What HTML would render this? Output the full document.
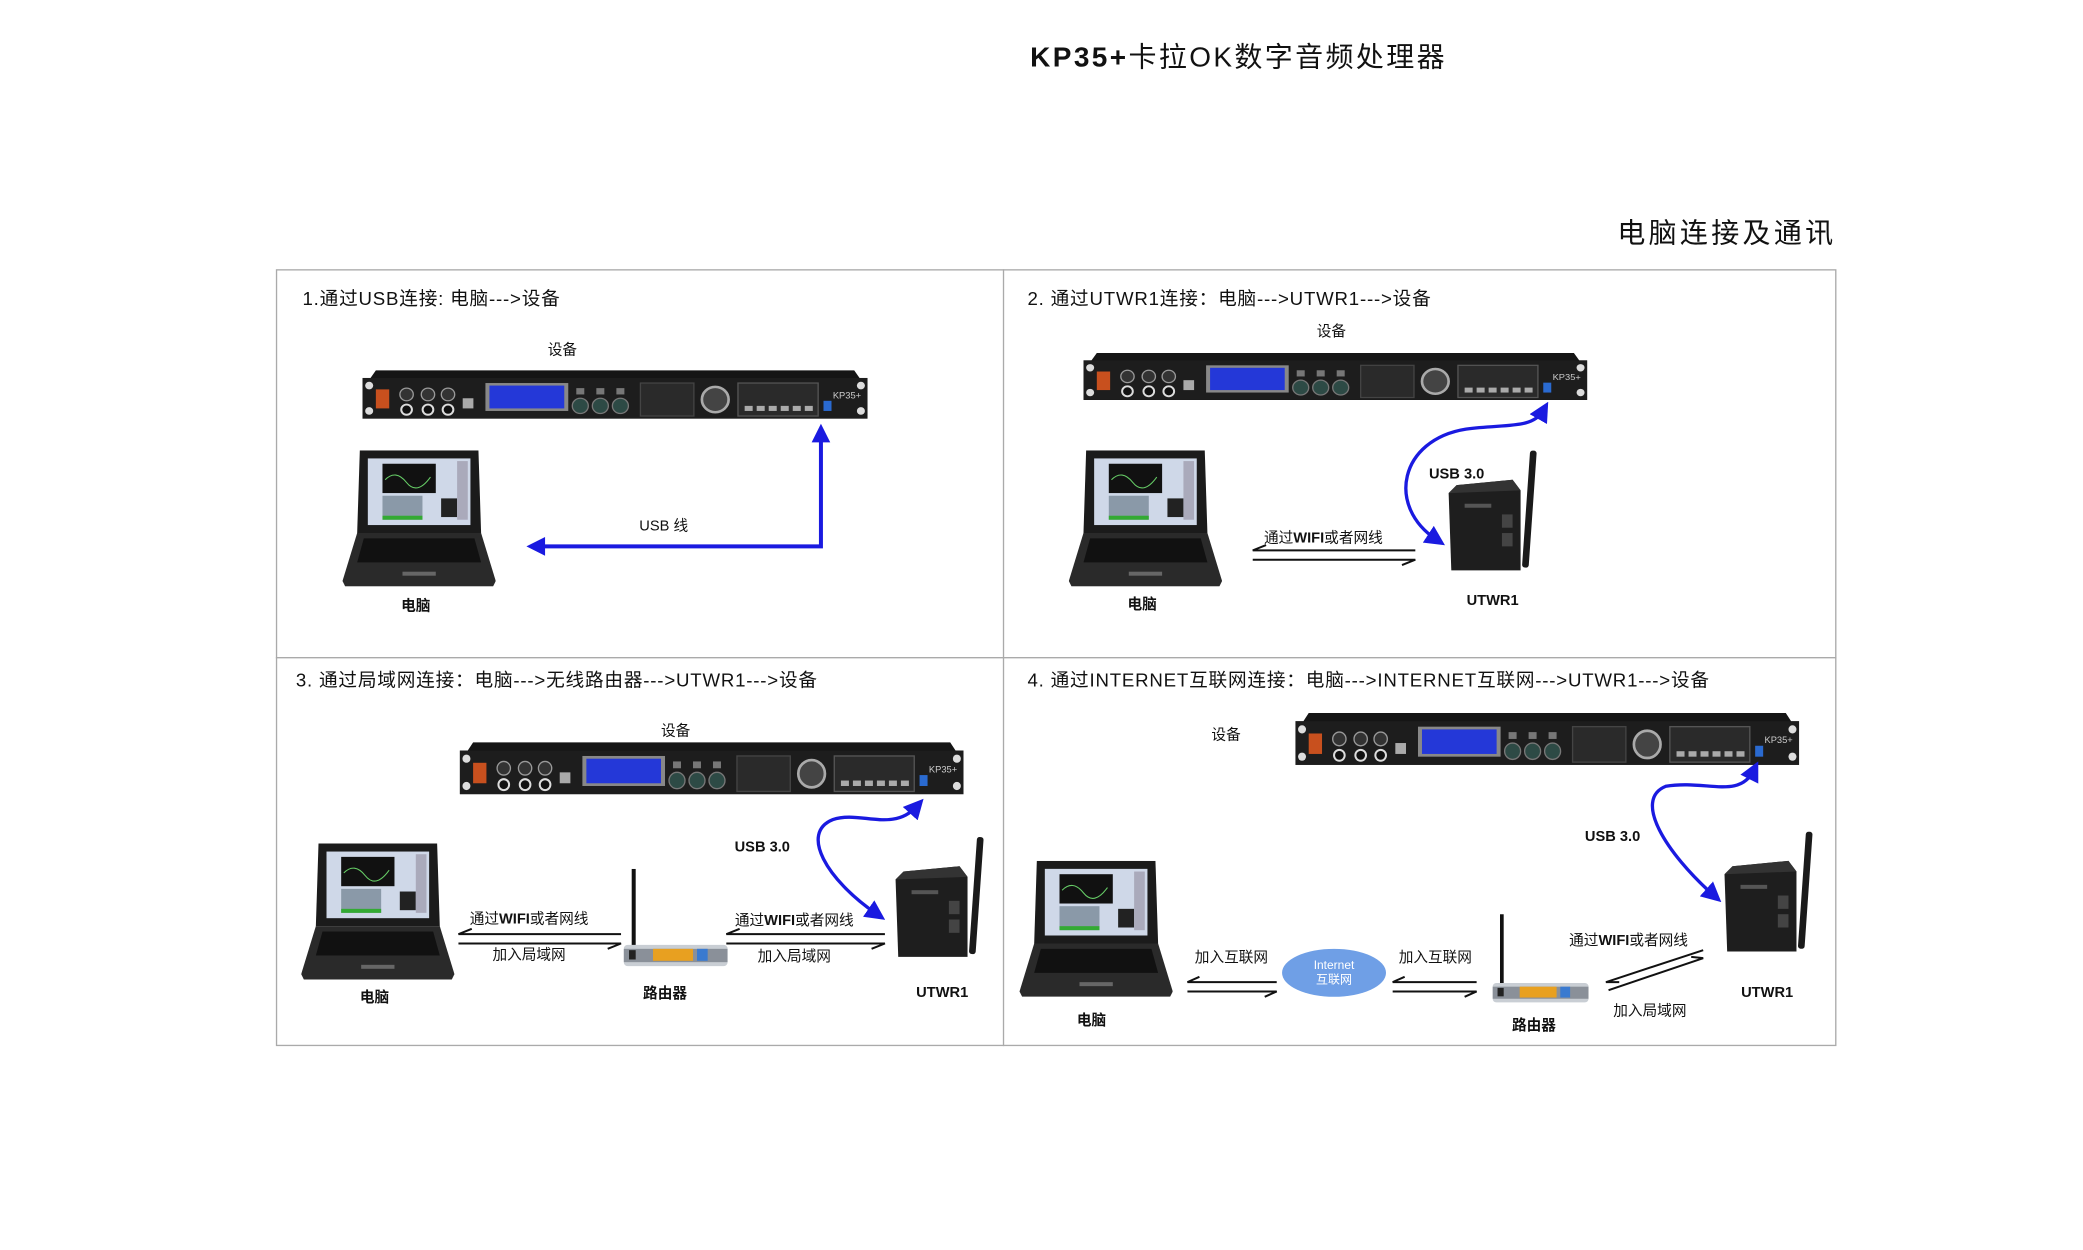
<!DOCTYPE html>
<html><head><meta charset="utf-8"><style>
html,body{margin:0;padding:0;background:#fff;width:2083px;height:1250px;overflow:hidden}
svg{display:block}
text{font-family:"Liberation Sans","Noto Sans CJK SC",sans-serif;fill:#111}
.t{font-size:14px;letter-spacing:0.6px}
.s{font-size:11px}
.b{font-weight:bold}
</style></head><body>
<svg width="2083" height="1250" viewBox="0 0 1563 938" preserveAspectRatio="none" xmlns="http://www.w3.org/2000/svg">
<defs>
<symbol id="dev" viewBox="0 0 378 42" preserveAspectRatio="none">
 <path d="M10 2 L368 2 L372 8 L378 8 L378 40 L0 40 L0 8 L6 8 Z" fill="#151515"/>
 <rect x="0" y="8" width="378" height="32" fill="#1d1d1d"/>
 <circle cx="5" cy="14" r="3" fill="#ddd"/><circle cx="5" cy="34" r="3" fill="#ddd"/>
 <circle cx="373" cy="14" r="3" fill="#ddd"/><circle cx="373" cy="34" r="3" fill="#ddd"/>
 <rect x="10" y="17" width="10" height="15" fill="#c8501e"/>
 <circle cx="33" cy="21" r="5" fill="#333" stroke="#999" stroke-width="1"/>
 <circle cx="49" cy="21" r="5" fill="#333" stroke="#999" stroke-width="1"/>
 <circle cx="64" cy="21" r="5" fill="#333" stroke="#999" stroke-width="1"/>
 <circle cx="33" cy="33" r="4" fill="#111" stroke="#ddd" stroke-width="1.5"/>
 <circle cx="49" cy="33" r="4" fill="#111" stroke="#ddd" stroke-width="1.5"/>
 <circle cx="64" cy="33" r="4" fill="#111" stroke="#ddd" stroke-width="1.5"/>
 <rect x="75" y="24" width="8" height="8" fill="#aaa"/>
 <rect x="92" y="12" width="62" height="22" fill="#888"/>
 <rect x="95" y="14" width="56" height="18" fill="#2438d8"/>
 <circle cx="163" cy="30" r="6" fill="#2d4a45" stroke="#777"/>
 <circle cx="178" cy="30" r="6" fill="#2d4a45" stroke="#777"/>
 <circle cx="193" cy="30" r="6" fill="#2d4a45" stroke="#777"/>
 <rect x="160" y="16" width="6" height="5" fill="#777"/><rect x="175" y="16" width="6" height="5" fill="#777"/><rect x="190" y="16" width="6" height="5" fill="#777"/>
 <rect x="208" y="12" width="40" height="26" fill="#2a2a2a" stroke="#444"/>
 <circle cx="264" cy="25" r="10" fill="#444" stroke="#aaa" stroke-width="2"/>
 <rect x="281" y="12" width="60" height="26" fill="#2a2a2a" stroke="#555"/>
 <g fill="#aaa"><rect x="286" y="30" width="6" height="4"/><rect x="295" y="30" width="6" height="4"/><rect x="304" y="30" width="6" height="4"/><rect x="313" y="30" width="6" height="4"/><rect x="322" y="30" width="6" height="4"/><rect x="331" y="30" width="6" height="4"/></g>
 <rect x="345" y="26" width="6" height="8" fill="#2a6ad0"/>
 <text x="352" y="24" font-size="7" style="fill:#ccc">KP35+</text>
</symbol>
<symbol id="lap" viewBox="0 0 115 102" preserveAspectRatio="none">
 <path d="M13 0 L102 0 L104 62 L11 62 Z" fill="#1b1b1b"/>
 <rect x="19" y="6" width="77" height="50" fill="#cfd8e8"/>
 <rect x="30" y="10" width="40" height="22" fill="#111"/>
 <path d="M32 22 Q40 14 48 24 T66 20" stroke="#6c6" fill="none" stroke-width="0.8"/>
 <rect x="30" y="34" width="30" height="18" fill="#8a99a8"/>
 <rect x="30" y="49" width="30" height="3" fill="#3a3"/>
 <rect x="74" y="36" width="12" height="14" fill="#222"/>
 <rect x="86" y="8" width="8" height="44" fill="#aab"/>
 <path d="M11 62 L104 62 L115 98 L113 102 L2 102 L0 98 Z" fill="#2a2a2a"/>
 <path d="M16 66 L99 66 L104 84 L11 84 Z" fill="#111"/>
 <rect x="45" y="91" width="25" height="3" fill="#666"/>
</symbol>
<symbol id="rt" viewBox="0 0 78 75" preserveAspectRatio="none">
 <rect x="6" y="0" width="3" height="60" fill="#111"/>
 <rect x="0" y="57" width="78" height="16" rx="3" fill="#c9ced4"/>
 <rect x="0" y="60" width="78" height="10" fill="#8a9099"/>
 <rect x="22" y="60" width="30" height="9" fill="#e8a020"/>
 <rect x="55" y="60" width="8" height="9" fill="#3a7ad0"/>
 <rect x="4" y="61" width="5" height="7" fill="#222"/>
</symbol>
<symbol id="ut" viewBox="0 0 70 92" preserveAspectRatio="none">
 <rect x="60" y="0" width="5" height="88" rx="2" fill="#1a1a1a" transform="rotate(4 62 45)"/>
 <path d="M8 26 L50 22 L56 30 L56 90 L4 90 L2 32 Z" fill="#1e1e1e"/>
 <path d="M2 32 L8 26 L50 22 L56 30 Z" fill="#333"/>
 <rect x="42" y="48" width="8" height="10" fill="#444"/>
 <rect x="42" y="62" width="8" height="10" fill="#444"/>
 <rect x="14" y="40" width="20" height="3" fill="#555"/>
</symbol>
<marker id="ah" viewBox="0 0 10 10" refX="5" refY="5" markerWidth="6" markerHeight="6" orient="auto-start-reverse"><path d="M0 0 L10 5 L0 10 Z" fill="#1a1ae0"/></marker>
</defs>

<text x="773" y="50" font-size="21" letter-spacing="1.8" class="b">KP35+<tspan font-weight="normal">卡拉OK数字音频处理器</tspan></text>
<text x="1378" y="182" font-size="21" letter-spacing="2.5" text-anchor="end">电脑连接及通讯</text>

<rect x="207.5" y="202.5" width="1170" height="582" fill="none" stroke="#aaa" stroke-width="1"/>
<line x1="753" y1="202" x2="753" y2="785" stroke="#aaa"/>
<line x1="207" y1="493.5" x2="1378" y2="493.5" stroke="#aaa"/>

<!-- Panel 1 -->
<text x="227" y="229" class="t">1.通过USB连接:  电脑--->设备</text>
<text x="422" y="266" class="s" text-anchor="middle">设备</text>
<use href="#dev" x="272" y="276" width="379" height="40"/>
<use href="#lap" x="257" y="338" width="115" height="102"/>
<text x="312" y="458" class="s b" text-anchor="middle">电脑</text>
<path d="M616 330 L616 410 L408 410" stroke="#1a1ae0" stroke-width="3" fill="none"/>
<path d="M616 318 L609 332 L623 332 Z" fill="#1a1ae0"/>
<path d="M395 410 L409 403 L409 417 Z" fill="#1a1ae0"/>
<text x="498" y="398" class="s" text-anchor="middle">USB 线</text>

<!-- Panel 2 -->
<text x="771" y="229" class="t">2. 通过UTWR1连接：电脑--->UTWR1--->设备</text>
<text x="999" y="252" class="s" text-anchor="middle">设备</text>
<use href="#dev" x="813" y="263" width="378" height="39"/>
<use href="#lap" x="802" y="338" width="115" height="102"/>
<text x="857" y="457" class="s b" text-anchor="middle">电脑</text>
<use href="#ut" x="1085" y="338" width="70" height="92"/>
<text x="1120" y="454" class="s b" text-anchor="middle">UTWR1</text>
<text x="1093" y="359" class="s b" text-anchor="middle">USB 3.0</text>
<path d="M1078 405 C1040 380 1050 330 1100 322 C1130 318 1150 322 1158 308" stroke="#1a1ae0" stroke-width="2.5" fill="none" marker-end="url(#ah)" marker-start="url(#ah)"/>
<text x="993" y="407" class="s" text-anchor="middle">通过<tspan font-weight="bold">WIFI</tspan>或者网线</text>
<g stroke="#111" stroke-width="1.5" fill="none"><path d="M1062 413 L940 413 L950 409"/><path d="M940 420 L1062 420 L1052 424"/></g>

<!-- Panel 3 -->
<text x="222" y="515" class="t">3. 通过局域网连接：电脑--->无线路由器--->UTWR1--->设备</text>
<text x="507" y="552" class="s" text-anchor="middle">设备</text>
<use href="#dev" x="345" y="555" width="378" height="43"/>
<use href="#lap" x="226" y="633" width="115" height="102"/>
<text x="281" y="752" class="s b" text-anchor="middle">电脑</text>
<use href="#rt" x="468" y="652" width="78" height="75"/>
<text x="499" y="749" class="s b" text-anchor="middle">路由器</text>
<use href="#ut" x="670" y="628" width="70" height="92"/>
<text x="707" y="748" class="s b" text-anchor="middle">UTWR1</text>
<text x="572" y="639" class="s b" text-anchor="middle">USB 3.0</text>
<path d="M658 686 C620 660 600 625 625 615 C645 608 670 625 688 605" stroke="#1a1ae0" stroke-width="2.5" fill="none" marker-end="url(#ah)" marker-start="url(#ah)"/>
<text x="397" y="693" class="s" text-anchor="middle">通过<tspan font-weight="bold">WIFI</tspan>或者网线</text>
<text x="397" y="720" class="s" text-anchor="middle">加入局域网</text>
<g stroke="#111" stroke-width="1.5" fill="none"><path d="M466 701 L344 701 L354 697"/><path d="M344 708 L466 708 L456 712"/></g>
<text x="596" y="694" class="s" text-anchor="middle">通过<tspan font-weight="bold">WIFI</tspan>或者网线</text>
<text x="596" y="721" class="s" text-anchor="middle">加入局域网</text>
<g stroke="#111" stroke-width="1.5" fill="none"><path d="M664 701 L545 701 L555 697"/><path d="M545 708 L664 708 L654 712"/></g>

<!-- Panel 4 -->
<text x="771" y="515" class="t">4. 通过INTERNET互联网连接：电脑--->INTERNET互联网--->UTWR1--->设备</text>
<text x="920" y="555" class="s" text-anchor="middle">设备</text>
<use href="#dev" x="972" y="533" width="378" height="43"/>
<use href="#lap" x="765" y="646" width="115" height="102"/>
<text x="819" y="769" class="s b" text-anchor="middle">电脑</text>
<ellipse cx="1001" cy="730" rx="39" ry="18" fill="#6f9fe6"/>
<text x="1001" y="727" font-size="9" text-anchor="middle" style="fill:#fff">Internet</text>
<text x="1001" y="738" font-size="9" text-anchor="middle" style="fill:#fff">互联网</text>
<text x="924" y="722" class="s" text-anchor="middle">加入互联网</text>
<text x="1077" y="722" class="s" text-anchor="middle">加入互联网</text>
<g stroke="#111" stroke-width="1.5" fill="none"><path d="M958 737 L891 737 L900 733"/><path d="M891 744 L958 744 L949 748"/>
<path d="M1108 737 L1045 737 L1054 733"/><path d="M1045 744 L1108 744 L1099 748"/></g>
<use href="#rt" x="1120" y="686" width="72" height="68"/>
<text x="1151" y="773" class="s b" text-anchor="middle">路由器</text>
<use href="#ut" x="1292" y="624" width="70" height="92"/>
<text x="1326" y="748" class="s b" text-anchor="middle">UTWR1</text>
<text x="1210" y="631" class="s b" text-anchor="middle">USB 3.0</text>
<path d="M1286 672 C1250 640 1225 600 1250 590 C1280 585 1305 600 1316 578" stroke="#1a1ae0" stroke-width="2.5" fill="none" marker-end="url(#ah)" marker-start="url(#ah)"/>
<text x="1222" y="709" class="s" text-anchor="middle">通过<tspan font-weight="bold">WIFI</tspan>或者网线</text>
<text x="1238" y="762" class="s" text-anchor="middle">加入局域网</text>
<g stroke="#111" stroke-width="1.5" fill="none"><path d="M1278 713 L1205 737 L1215 737"/><path d="M1207 743 L1278 719 L1269 718"/></g>
</svg>
</body></html>
